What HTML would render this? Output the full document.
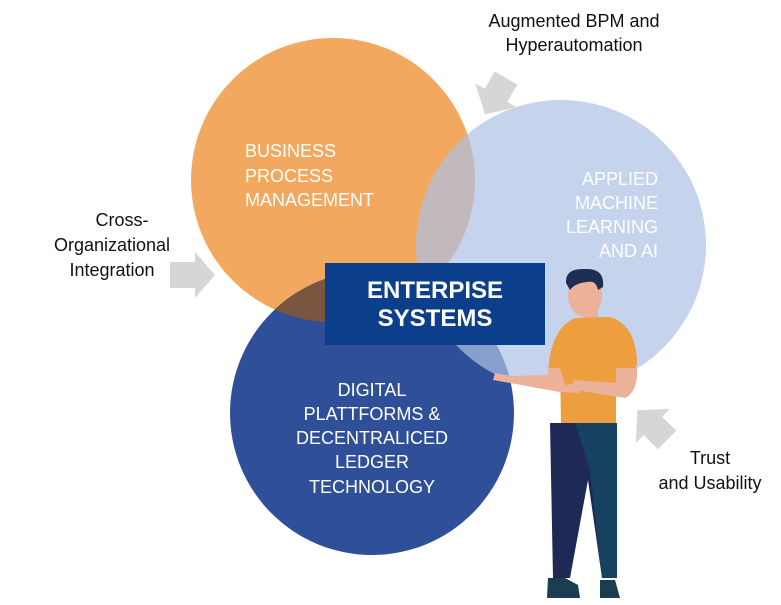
<!DOCTYPE html>
<html><head><meta charset="utf-8"><style>
html,body{margin:0;padding:0;background:#fff;}
svg text{font-family:"Liberation Sans",Arial,sans-serif;}
</style></head><body>
<svg width="781" height="600" viewBox="0 0 781 600" xmlns="http://www.w3.org/2000/svg">
<defs><clipPath id="co"><circle cx="333" cy="180" r="142"/></clipPath></defs>
<rect width="781" height="600" fill="#fff"/>
<circle cx="333" cy="180" r="142" fill="#f2a85e"/>
<circle cx="372" cy="413" r="142" fill="#2f5098"/>
<circle cx="372" cy="413" r="142" fill="#7a5640" clip-path="url(#co)"/>
<circle cx="561" cy="245" r="145" fill="#acc0e4" opacity="0.7"/>
<!-- arrows -->
<g fill="#d6d6d6">
<polygon points="170,262 195,262 195,252 215,275 195,298 195,288 170,288"/>
<polygon points="0,-13 20,-13 20,-24 42,0 20,24 20,13 0,13" transform="translate(506,78) rotate(120)"/>
<polygon points="0,-13 20,-13 20,-24 42,0 20,24 20,13 0,13" transform="translate(667,440) rotate(-135)"/>
</g>
<rect x="325" y="263" width="220" height="82" fill="#0b3f8c"/>
<text x="435" y="298" text-anchor="middle" font-size="24" font-weight="bold" fill="#fff">ENTERPISE</text>
<text x="435" y="326" text-anchor="middle" font-size="24" font-weight="bold" fill="#fff">SYSTEMS</text>
<g font-size="18" fill="#fff">
<text x="245" y="157">BUSINESS</text>
<text x="245" y="182">PROCESS</text>
<text x="245" y="206">MANAGEMENT</text>
<text x="658" y="185" text-anchor="end">APPLIED</text>
<text x="658" y="209" text-anchor="end">MACHINE</text>
<text x="658" y="233" text-anchor="end">LEARNING</text>
<text x="658" y="257" text-anchor="end">AND AI</text>
<g text-anchor="middle">
<text x="372" y="396">DIGITAL</text>
<text x="372" y="420">PLATTFORMS &amp;</text>
<text x="372" y="444">DECENTRALICED</text>
<text x="372" y="468">LEDGER</text>
<text x="372" y="493">TECHNOLOGY</text>
</g></g>
<g font-size="18" fill="#111" text-anchor="middle">
<text x="574" y="27">Augmented BPM and</text>
<text x="574" y="51">Hyperautomation</text>
<text x="122" y="226">Cross-</text>
<text x="112" y="251">Organizational</text>
<text x="112" y="276">Integration</text>
<text x="710" y="464">Trust</text>
<text x="710" y="489">and Usability</text>
</g>
<!-- person -->
<g>
<path d="M565,578 L548,578 L547,598 L580,598 L578,585 Z" fill="#1a3d50"/>
<path d="M600,580 L615,580 L620,598 L600,598 Z" fill="#1a3d50"/>
<path d="M550,423 L617,423 L617,578 L602,578 L588,480 L570,578 L553,578 Z" fill="#1e2a55"/>
<path d="M575,423 L617,423 L617,578 L602,578 L590,470 Z" fill="#174160"/>
<rect x="584" y="303" width="14" height="20" fill="#ecb199"/>
<ellipse cx="585" cy="295" rx="17" ry="22" fill="#ecb199"/>
<path d="M566,283 Q565,268 585,269 Q605,268 603,287 L598,290 Q596,280 587,282 Q575,283 570,290 Z" fill="#1b2f52"/>
<path d="M548,380 Q548,330 575,318 L610,317 Q636,325 637,362 L636,368 L616,368 L616,423 L561,423 L560,368 L548,368 Z" fill="#ed9f40"/>
<path d="M616,368 L637,368 Q638,392 625,398 L575,390 L573,380 L616,383 Z" fill="#ecb199"/>
<path d="M548,368 L560,368 L565,385 L575,383 L580,393 L560,392 L493,380 L495,373 L510,376 L548,375 Z" fill="#ecb199"/>
</g>
</svg>
</body></html>
